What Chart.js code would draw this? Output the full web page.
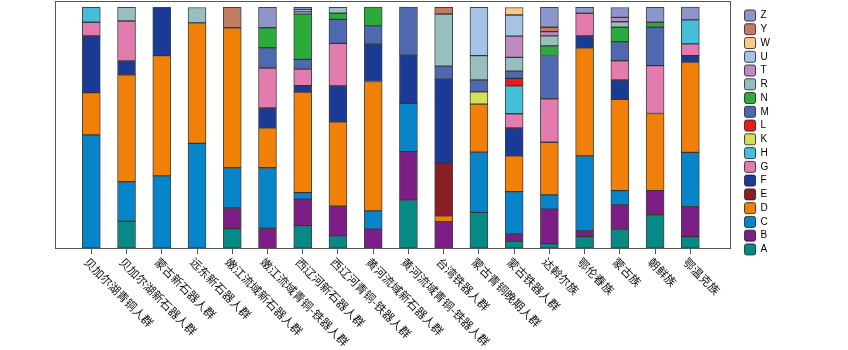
<!DOCTYPE html>
<html>
<head>
<meta charset="utf-8">
<script src="https://cdn.jsdelivr.net/npm/chart.js@4/dist/chart.umd.min.js"></script>
<style>
  html, body { margin: 0; padding: 0; background: #ffffff; }
  #wrap { width: 848px; height: 350px; }
</style>
</head>
<body>
<div id="wrap"><canvas id="c" width="848" height="350"></canvas></div>
<script>
const categories = ["贝加尔湖青铜人群","贝加尔湖新石器人群","蒙古新石器人群","远东新石器人群","嫩江流域新石器人群","嫩江流域青铜-铁器人群","西辽河新石器人群","西辽河青铜-铁器人群","黄河流域新石器人群","黄河流域青铜-铁器人群","台湾铁器人群","蒙古青铜晚期人群","蒙古铁器人群","达斡尔族","鄂伦春族","蒙古族","朝鲜族","鄂温克族"];
const seriesNames = ["A","B","C","D","E","F","G","H","K","L","M","N","R","T","U","W","Y","Z"];
const A = [0, 0.111, 0, 0, 0.08, 0, 0.093, 0.05, 0, 0.2, 0, 0.148, 0.028, 0.018, 0.047, 0.078, 0.138, 0.047];
const B = [0, 0, 0, 0, 0.086, 0.082, 0.11, 0.124, 0.078, 0.2, 0.109, 0, 0.03, 0.143, 0.024, 0.101, 0.1, 0.124];
const C = [0.469, 0.164, 0.299, 0.434, 0.167, 0.251, 0.027, 0, 0.076, 0.2, 0, 0.25, 0.176, 0.059, 0.311, 0.059, 0, 0.226];
const D = [0.176, 0.444, 0.499, 0.5, 0.581, 0.166, 0.417, 0.35, 0.537, 0, 0.025, 0.199, 0.148, 0.219, 0.449, 0.379, 0.32, 0.375];
const E = [0, 0, 0, 0, 0, 0, 0, 0, 0, 0, 0.217, 0, 0, 0, 0, 0, 0, 0];
const F = [0.235, 0.057, 0.201, 0, 0, 0.082, 0.027, 0.149, 0.155, 0.2, 0.35, 0, 0.116, 0, 0.049, 0.08, 0, 0.026];
const G = [0.057, 0.166, 0, 0, 0, 0.166, 0.068, 0.176, 0, 0, 0, 0, 0.059, 0.18, 0.094, 0.08, 0.199, 0.049];
const H = [0.062, 0, 0, 0, 0, 0, 0, 0, 0, 0, 0, 0, 0.116, 0, 0, 0, 0, 0.1];
const K = [0, 0, 0, 0, 0, 0, 0, 0, 0, 0, 0, 0.051, 0, 0, 0, 0, 0, 0];
const L = [0, 0, 0, 0, 0, 0, 0, 0, 0, 0, 0, 0, 0.031, 0, 0, 0, 0, 0];
const M = [0, 0, 0, 0, 0, 0.084, 0.041, 0.1, 0.076, 0.2, 0.054, 0.049, 0.03, 0.18, 0, 0.079, 0.159, 0];
const N = [0, 0, 0, 0, 0, 0.083, 0.188, 0.025, 0.078, 0, 0, 0, 0, 0.04, 0, 0.06, 0.021, 0];
const R = [0, 0.057, 0, 0.064, 0, 0, 0.009, 0.025, 0, 0, 0.216, 0.101, 0.057, 0.041, 0, 0.023, 0, 0];
const T = [0, 0, 0, 0, 0, 0, 0, 0, 0, 0, 0, 0, 0.088, 0.018, 0, 0.018, 0, 0];
const U = [0, 0, 0, 0, 0, 0, 0.009, 0, 0, 0, 0, 0.201, 0.088, 0, 0, 0, 0, 0];
const W = [0, 0, 0, 0, 0, 0, 0, 0, 0, 0, 0, 0, 0.031, 0, 0, 0, 0, 0];
const Y = [0, 0, 0, 0, 0.085, 0, 0, 0, 0, 0, 0.028, 0, 0, 0.018, 0, 0, 0, 0];
const Z = [0, 0, 0, 0, 0, 0.085, 0.01, 0, 0, 0, 0, 0, 0, 0.083, 0.025, 0.041, 0.062, 0.053];
const seriesValues = [A, B, C, D, E, F, G, H, K, L, M, N, R, T, U, W, Y, Z];
const colors = {
  A: "#078a86", B: "#7d1d86", C: "#0884cb", D: "#f08007", E: "#8a1e25",
  F: "#1a3a95", G: "#e27bae", H: "#44bfd7", K: "#d5df55", L: "#e81a1d",
  M: "#4f69b1", N: "#2bab3b", R: "#98bfbf", T: "#be8abf", U: "#a5c2e7",
  W: "#fec986", Y: "#c17b61", Z: "#8c96c8"
};
const datasets = seriesNames.map((name, si) => ({
  label: name,
  data: seriesValues[si].map((v, i) => ({ x: i, y: v === 0 ? null : v })),
  backgroundColor: colors[name],
  borderColor: "rgba(35,35,35,0.85)",
  borderWidth: 1,
  borderSkipped: false,
  barThickness: 18
}));
const boxPlugin = {
  id: "boxPlugin",
  afterDraw(chart) {
    const { ctx, chartArea: a } = chart;
    ctx.save();
    ctx.strokeStyle = "#555555";
    ctx.lineWidth = 1;
    ctx.strokeRect(Math.round(a.left) + 0.5, Math.round(a.top) + 0.5,
      Math.round(a.right) - Math.round(a.left), Math.round(a.bottom) - Math.round(a.top));
    ctx.restore();
  }
};
const labelPlugin = {
  id: "labelPlugin",
  afterDraw(chart) {
    const { ctx, chartArea: a } = chart;
    const xs = chart.scales.x;
    ctx.save();
    ctx.fillStyle = "#111111";
    ctx.font = '11.5px "Noto Sans CJK SC", sans-serif';
    ctx.textAlign = "left";
    ctx.textBaseline = "middle";
    categories.forEach((lab, i) => {
      const px = xs.getPixelForValue(i);
      ctx.save();
      ctx.translate(px - 5, a.bottom + 12);
      ctx.rotate(Math.PI / 4);
      ctx.fillText(lab, 0, 0);
      ctx.restore();
    });
    ctx.restore();
  }
};
new Chart(document.getElementById("c"), {
  type: "bar",
  data: { datasets },
  options: {
    responsive: false,
    animation: false,
    devicePixelRatio: 1,
    layout: { padding: { left: 55, top: 1, right: 68, bottom: 0 } },
    scales: {
      x: {
        type: "linear", stacked: true, offset: false, min: -1.03, max: 18.12,
        afterBuildTicks(s) { s.ticks = categories.map((_, i) => ({ value: i })); },
        afterFit(s) { s.height = 102; },
        grid: { display: true, offset: false, drawOnChartArea: false, drawTicks: true, tickLength: 6, color: "#555555" },
        border: { display: false },
        ticks: { display: false }
      },
      y: {
        type: "linear", stacked: true, position: "right", min: 0, max: 1.025,
        grid: { display: false }, border: { display: false }, ticks: { display: false },
        afterFit(s) { s.width = 12; }
      }
    },
    plugins: {
      tooltip: { enabled: false },
      legend: {
        position: "right", align: "start", reverse: true,
        title: { display: true, text: " ", padding: { top: 5.04, bottom: 0 }, font: { size: 1 } },
        labels: {
          boxWidth: 11, boxHeight: 11, padding: 2.76, useBorderRadius: true, borderRadius: 2,
          color: "#000000", font: { family: '"Liberation Sans", Arial, sans-serif', size: 10 }
        }
      }
    }
  },
  plugins: [boxPlugin, labelPlugin]
});
</script>
</body>
</html>
